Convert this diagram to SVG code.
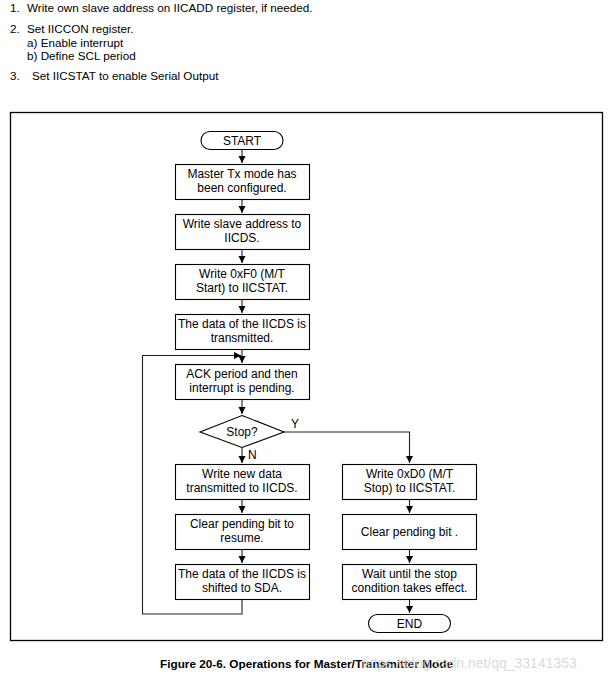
<svg xmlns="http://www.w3.org/2000/svg" width="615" height="677" viewBox="0 0 615 677">
<defs>
<marker id="ah" markerWidth="8" markerHeight="8" refX="7" refY="4" orient="auto" markerUnits="userSpaceOnUse">
<path d="M0,0.5 L7,4 L0,7.5 Z" fill="#000"/>
</marker>
<style>
text{font-family:"Liberation Sans",Arial,sans-serif;fill:#000}
.t{font-size:12px;text-anchor:middle}
.h{font-size:11.7px}
.box{fill:#fff;stroke:#000;stroke-width:1.1}
.c{fill:none;stroke:#222;stroke-width:1.1}
.cap{font-size:11.8px;font-weight:bold}
.wm{font-size:14px;fill:#d0d0d0;fill-opacity:0.8}
</style>
</defs>
<rect width="615" height="677" fill="#fff"/>
<g id="intro">
<text class="h" x="10" y="12">1.</text><text class="h" x="27" y="12">Write own slave address on IICADD register, if needed.</text>
<text class="h" x="10" y="33">2.</text><text class="h" x="27" y="33">Set IICCON register.</text>
<text class="h" x="27" y="47">a) Enable interrupt</text>
<text class="h" x="27" y="60">b) Define SCL period</text>
<text class="h" x="10" y="80">3.</text><text class="h" x="32" y="80">Set IICSTAT to enable Serial Output</text>
</g>
<rect id="frame" x="10.5" y="112.5" width="592" height="528" fill="none" stroke="#000" stroke-width="1.3"/>
<g id="connectors">
<path class="c" d="M242,150 V163" marker-end="url(#ah)"/>
<path class="c" d="M242,199 V213" marker-end="url(#ah)"/>
<path class="c" d="M242,249 V263" marker-end="url(#ah)"/>
<path class="c" d="M242,299 V313" marker-end="url(#ah)"/>
<path class="c" d="M242,349 V363" marker-end="url(#ah)"/>
<path class="c" d="M242,399 V414" marker-end="url(#ah)"/>
<path class="c" d="M242,447 V463" marker-end="url(#ah)"/>
<path class="c" d="M242,499 V513" marker-end="url(#ah)"/>
<path class="c" d="M242,549 V563" marker-end="url(#ah)"/>
<path class="c" d="M242,599 V614 H142.5 V355.5 H241" marker-end="url(#ah)"/>
<path class="c" d="M284,432 H409.5 V463" marker-end="url(#ah)"/>
<path class="c" d="M409.5,499 V513" marker-end="url(#ah)"/>
<path class="c" d="M409.5,549 V563" marker-end="url(#ah)"/>
<path class="c" d="M409.5,599 V613" marker-end="url(#ah)"/>
<text x="291" y="428" style="font-size:12px">Y</text>
<text x="248" y="459" style="font-size:12px">N</text>
</g>
<g id="start"><rect class="box" x="201" y="131.5" width="82" height="18" rx="9"/><text class="t" x="242" y="145">START</text></g>
<g id="n1"><rect class="box" x="175.5" y="164.5" width="134" height="35"/><text class="t" x="242" y="178">Master Tx mode has</text><text class="t" x="242" y="192">been configured.</text></g>
<g id="n2"><rect class="box" x="175.5" y="214.5" width="134" height="35"/><text class="t" x="242" y="228">Write slave address to</text><text class="t" x="242" y="242">IICDS.</text></g>
<g id="n3"><rect class="box" x="175.5" y="264.5" width="134" height="35"/><text class="t" x="242" y="278">Write 0xF0 (M/T</text><text class="t" x="242" y="292">Start) to IICSTAT.</text></g>
<g id="n4"><rect class="box" x="175.5" y="314.5" width="134" height="35"/><text class="t" x="242" y="328">The data of the IICDS is</text><text class="t" x="242" y="342">transmitted.</text></g>
<g id="n5"><rect class="box" x="175.5" y="364.5" width="134" height="35"/><text class="t" x="242" y="378">ACK period and then</text><text class="t" x="242" y="392">interrupt is pending.</text></g>
<g id="stop"><polygon class="box" points="242,415.5 284,432 242,447.5 200,432"/><text class="t" x="242" y="436">Stop?</text></g>
<g id="n6"><rect class="box" x="175.5" y="464.5" width="134" height="35"/><text class="t" x="242" y="478">Write new data</text><text class="t" x="242" y="492">transmitted to IICDS.</text></g>
<g id="n7"><rect class="box" x="175.5" y="514.5" width="134" height="35"/><text class="t" x="242" y="528">Clear pending bit to</text><text class="t" x="242" y="542">resume.</text></g>
<g id="n8"><rect class="box" x="175.5" y="564.5" width="134" height="35"/><text class="t" x="242" y="578">The data of the IICDS is</text><text class="t" x="242" y="592">shifted to SDA.</text></g>
<g id="r1"><rect class="box" x="342.5" y="464.5" width="134" height="35"/><text class="t" x="409.5" y="478">Write 0xD0 (M/T</text><text class="t" x="409.5" y="492">Stop) to IICSTAT.</text></g>
<g id="r2"><rect class="box" x="342.5" y="514.5" width="134" height="35"/><text class="t" x="409.5" y="536">Clear pending bit .</text></g>
<g id="r3"><rect class="box" x="342.5" y="564.5" width="134" height="35"/><text class="t" x="409.5" y="578">Wait until the stop</text><text class="t" x="409.5" y="592">condition takes effect.</text></g>
<g id="end"><rect class="box" x="368.5" y="614.5" width="82" height="18" rx="9"/><text class="t" x="409.5" y="628">END</text></g>
<text class="cap" x="160" y="668" textLength="293" lengthAdjust="spacingAndGlyphs">Figure 20-6. Operations for Master/Transmitter Mode</text>
<text class="wm" x="362" y="668">https://blog.csdn.net/qq_33141353</text>
</svg>
